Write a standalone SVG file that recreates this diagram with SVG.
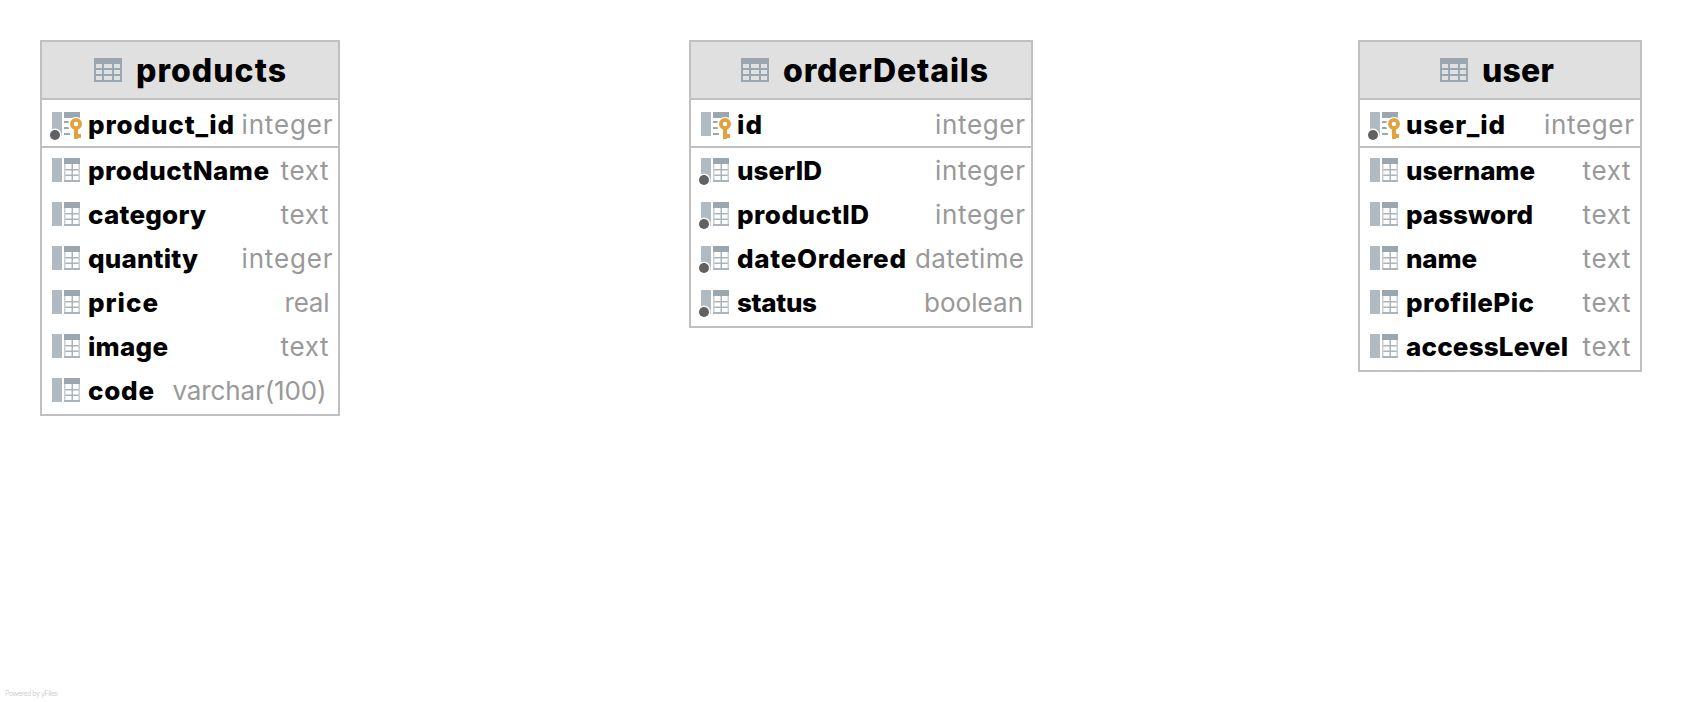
<svg xmlns="http://www.w3.org/2000/svg" xmlns:xlink="http://www.w3.org/1999/xlink" width="1682" height="702" viewBox="0 0 1682 702">
<style>
text{font-family:Inter,"Noto Sans","Liberation Sans",sans-serif}
.box{fill:#fff;stroke:#c0c0c0;stroke-width:2}
.head{fill:#e0e0e0;stroke:#c0c0c0;stroke-width:2}
.div{stroke:#c0c0c0;stroke-width:2;fill:none}
.title{font-size:32px;font-weight:800;fill:#000}
.name{font-size:26px;font-weight:800;fill:#000}
.type{font-size:26px;font-weight:400;fill:#999;text-anchor:end}
.wm{font-size:7px;fill:#d0d0d0}
</style>
<defs>
<g id="tbl">
<path fill="#9aa7b0" d="M0 0h28v24H0z"/>
<path fill="#e0e0e0" d="M2 6h6v4H2zM10 6h8v4h-8zM20 6h6v4h-6zM2 12h6v4H2zM10 12h8v4h-8zM20 12h6v4h-6zM2 18h6v4H2zM10 18h8v4h-8zM20 18h6v4h-6z"/>
</g>
<g id="col">
<path fill="#afbac2" d="M0 0h10v24H0z"/>
<path fill="#9aa7b0" d="M12 0h16v6H12z"/>
<path fill="#a9b4bc" d="M19.500 6h1.500v18h-1.500zM12 11h16v1.500H12zM12 16.500h16V18H12zM12 22h16v2H12z"/>
<path fill="#c6ced3" d="M12 6h1.500v16H12zM26.500 6H28v16h-1.500z"/>
</g>
<g id="pkcol">
<path fill="#afbac2" d="M0 0h10v24H0z"/>
<path fill="#9aa7b0" d="M12 0h16v6H12zM12 9h6v2h-6zM12 15h6v2h-6zM12 21h6v2h-6z"/>
<circle cx="24" cy="13" r="8" fill="#fff"/>
<path fill="#e0a33e" d="M22 17h4v10h-4zM26 22h3v4h-3z"/>
<circle cx="24" cy="12" r="4.100" fill="none" stroke="#e0a33e" stroke-width="3.800"/>
</g>
<g id="fk"><circle r="6.500" fill="#fff"/><circle r="5" fill="#616161"/></g>
</defs>
<rect width="1682" height="702" fill="#fff"/>
<g id="connectors"/>

<g id="products">
<rect class="box" x="41" y="41" width="298" height="374"/>
<rect class="head" x="41" y="41" width="298" height="58"/>
<path class="div" d="M41 147H339"/>
<use xlink:href="#tbl" x="94" y="58"/>
<text class="title" x="136" y="82" textLength="150">products</text>
<use xlink:href="#pkcol" x="52" y="112"/><use xlink:href="#fk" x="55" y="135"/>
<text class="name" x="88" y="134" textLength="146">product_id</text><text class="type" x="332.500" y="134" textLength="91">integer</text>
<use xlink:href="#col" x="52" y="158"/><text class="name" x="88" y="180" textLength="181">productName</text><text class="type" x="328.500" y="180" textLength="48">text</text>
<use xlink:href="#col" x="52" y="202"/><text class="name" x="88" y="224" textLength="118">category</text><text class="type" x="328.500" y="224" textLength="48">text</text>
<use xlink:href="#col" x="52" y="246"/><text class="name" x="88" y="268" textLength="110">quantity</text><text class="type" x="332.500" y="268" textLength="91">integer</text>
<use xlink:href="#col" x="52" y="290"/><text class="name" x="88" y="312" textLength="70">price</text><text class="type" x="329.500" y="312" textLength="45">real</text>
<use xlink:href="#col" x="52" y="334"/><text class="name" x="88" y="356" textLength="80">image</text><text class="type" x="328.500" y="356" textLength="48">text</text>
<use xlink:href="#col" x="52" y="378"/><text class="name" x="88" y="400" textLength="66">code</text><text class="type" x="326.500" y="400" textLength="154">varchar(100)</text>
</g>

<g id="orderDetails">
<rect class="box" x="690" y="41" width="342" height="286"/>
<rect class="head" x="690" y="41" width="342" height="58"/>
<path class="div" d="M690 147H1032"/>
<use xlink:href="#tbl" x="741" y="58"/>
<text class="title" x="783" y="82" textLength="205">orderDetails</text>
<use xlink:href="#pkcol" x="701" y="112"/>
<text class="name" x="737" y="134" textLength="25">id</text><text class="type" x="1025" y="134" textLength="90">integer</text>
<use xlink:href="#col" x="701" y="158"/><use xlink:href="#fk" x="704" y="180"/><text class="name" x="737" y="180" textLength="85">userID</text><text class="type" x="1025" y="180" textLength="90">integer</text>
<use xlink:href="#col" x="701" y="202"/><use xlink:href="#fk" x="704" y="224"/><text class="name" x="737" y="224" textLength="132">productID</text><text class="type" x="1025" y="224" textLength="90">integer</text>
<use xlink:href="#col" x="701" y="246"/><use xlink:href="#fk" x="704" y="268"/><text class="name" x="737" y="268" textLength="169">dateOrdered</text><text class="type" x="1024" y="268" textLength="109">datetime</text>
<use xlink:href="#col" x="701" y="290"/><use xlink:href="#fk" x="704" y="312"/><text class="name" x="737" y="312" textLength="80">status</text><text class="type" x="1023" y="312" textLength="99">boolean</text>
</g>

<g id="user">
<rect class="box" x="1359" y="41" width="282" height="330"/>
<rect class="head" x="1359" y="41" width="282" height="58"/>
<path class="div" d="M1359 147H1641"/>
<use xlink:href="#tbl" x="1440" y="58"/>
<text class="title" x="1482" y="82" textLength="72">user</text>
<use xlink:href="#pkcol" x="1370" y="112"/><use xlink:href="#fk" x="1373" y="135"/>
<text class="name" x="1406" y="134" textLength="99">user_id</text><text class="type" x="1634" y="134" textLength="90">integer</text>
<use xlink:href="#col" x="1370" y="158"/><text class="name" x="1406" y="180" textLength="129">username</text><text class="type" x="1630.500" y="180" textLength="48">text</text>
<use xlink:href="#col" x="1370" y="202"/><text class="name" x="1406" y="224" textLength="127">password</text><text class="type" x="1630.500" y="224" textLength="48">text</text>
<use xlink:href="#col" x="1370" y="246"/><text class="name" x="1406" y="268" textLength="71">name</text><text class="type" x="1630.500" y="268" textLength="48">text</text>
<use xlink:href="#col" x="1370" y="290"/><text class="name" x="1406" y="312" textLength="128">profilePic</text><text class="type" x="1630.500" y="312" textLength="48">text</text>
<use xlink:href="#col" x="1370" y="334"/><text class="name" x="1406" y="356" textLength="162">accessLevel</text><text class="type" x="1630.500" y="356" textLength="48">text</text>
</g>
<text class="wm" x="5" y="696" textLength="53">Powered by yFiles</text>
</svg>
